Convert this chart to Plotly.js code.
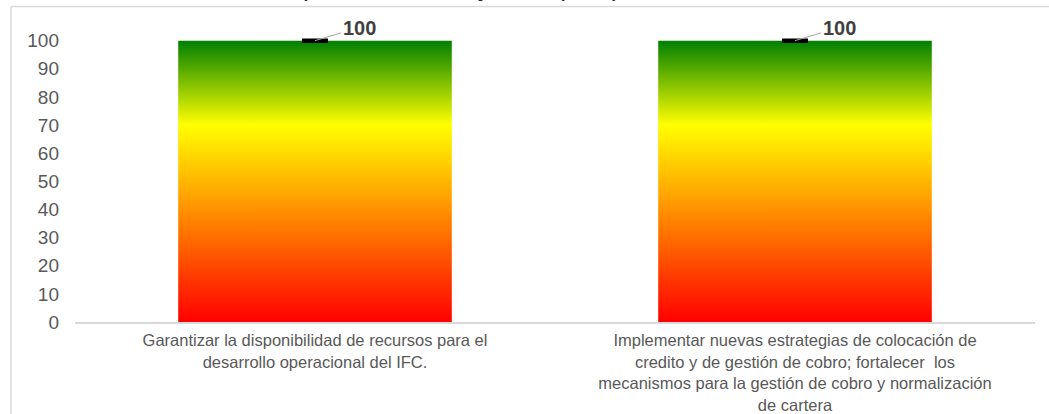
<!DOCTYPE html>
<html>
<head>
<meta charset="utf-8">
<script src="https://cdn.plot.ly/plotly-3.0.1.min.js"></script>
<style>
  html, body { margin: 0; padding: 0; background: #ffffff; }
  #chart { width: 1049px; height: 414px; }
</style>
</head>
<body>
<div id="chart"></div>
<script>
// ---- data ----
const chartTitle = "Cumplimiento de objetivos perspectiva financiera";
const categories = [
  "Garantizar la disponibilidad de recursos para el<br>desarrollo operacional del IFC.",
  "Implementar nuevas estrategias de colocación de<br>credito y de gestión de cobro; fortalecer  los<br>mecanismos para la gestión de cobro y normalización<br>de cartera"
];
const values = [100, 100];
const errorValues = [0, 0];
const yTickVals = [0, 10, 20, 30, 40, 50, 60, 70, 80, 90, 100];
const yTickText = ["0", "10", "20", "30", "40", "50", "60", "70", "80", "90", "100"];
const yMax = 102;

// ---- layout geometry (pixels) ----
const W = 1049, H = 414;
const zeroPx = 322, hundredPx = 41;
const unitPx = (zeroPx - hundredPx) / 100;
const M = { l: 75, r: 14, t: zeroPx - unitPx * yMax, b: H - zeroPx };
const PW = W - M.l - M.r, PH = H - M.t - M.b;
const px2x = p => (p - M.l) / PW;
const px2y = p => (H - M.b - p) / PH;

const trace = {
  type: "bar",
  x: categories,
  y: values,
  width: 0.57,
  cliponaxis: false,
  marker: { color: "#ffcc00", line: { width: 0 } },
  error_y: { type: "data", array: errorValues, visible: true, color: "#000000", thickness: 4.5, width: 13 },
  hoverinfo: "x+y"
};

const annotations = categories.map((c, i) => ({
  x: c, y: values[i], xref: "x", yref: "y",
  text: "<b>" + values[i] + "</b>",
  showarrow: true, arrowhead: 0, arrowwidth: 1, arrowcolor: "#a6a6a6",
  ax: 44, ay: -13, standoff: 0,
  font: { family: "Arial, Liberation Sans, sans-serif", size: 20, color: "#404040" }
}));

annotations.push({
  xref: "paper", yref: "paper",
  x: px2x(531), y: px2y(-12.6),
  xanchor: "center", yanchor: "middle",
  text: chartTitle, showarrow: false,
  font: { family: "Arial, Liberation Sans, sans-serif", size: 26, color: "#262626" }
});

const layout = {
  width: W, height: H,
  margin: M,
  paper_bgcolor: "#ffffff",
  plot_bgcolor: "#ffffff",
  showlegend: false,
  bargap: 0.43,
  xaxis: {
    type: "category",
    showline: true, linecolor: "#d9d9d9", linewidth: 1.5,
    showgrid: false, zeroline: false, ticks: "",
    tickfont: { family: "Arial, Liberation Sans, sans-serif", size: 16.5, color: "#595959" },
    ticklabelstandoff: 3
  },
  yaxis: {
    range: [0, yMax],
    tickvals: yTickVals, ticktext: yTickText,
    showline: false, showgrid: false, zeroline: false, ticks: "",
    tickfont: { family: "Arial, Liberation Sans, sans-serif", size: 19, color: "#595959" },
    ticklabelstandoff: 15
  },
  annotations: annotations,
  shapes: [
    { type: "line", xref: "paper", yref: "paper", x0: px2x(11), x1: px2x(W + 5), y0: px2y(7), y1: px2y(7),
      line: { color: "#d9d9d9", width: 1.5 } },
    { type: "line", xref: "paper", yref: "paper", x0: px2x(11), x1: px2x(11), y0: px2y(7), y1: px2y(H + 5),
      line: { color: "#d9d9d9", width: 1.5 } }
  ]
};

Plotly.newPlot("chart", [trace], layout, { displayModeBar: false, staticPlot: true }).then(gd => {
  const svg = gd.querySelector("svg.main-svg");
  const ns = "http://www.w3.org/2000/svg";
  let defs = svg.querySelector("defs");
  if (!defs) { defs = document.createElementNS(ns, "defs"); svg.insertBefore(defs, svg.firstChild); }
  const grad = document.createElementNS(ns, "linearGradient");
  grad.setAttribute("id", "barGrad");
  grad.setAttribute("x1", "0"); grad.setAttribute("y1", "1");
  grad.setAttribute("x2", "0"); grad.setAttribute("y2", "0");
  [["0", "#ff0000"], ["0.70", "#ffff00"], ["1", "#008000"]].forEach(([o, c]) => {
    const s = document.createElementNS(ns, "stop");
    s.setAttribute("offset", o); s.setAttribute("stop-color", c);
    grad.appendChild(s);
  });
  defs.appendChild(grad);
  gd.querySelectorAll(".barlayer .point path").forEach(p => { p.style.fill = "url(#barGrad)"; });
});
</script>
</body>
</html>
